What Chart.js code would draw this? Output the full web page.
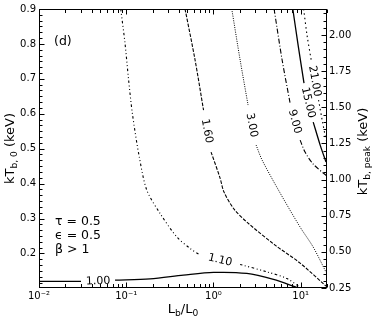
<!DOCTYPE html>
<html><head><meta charset="utf-8">
<script src="https://cdn.jsdelivr.net/npm/chart.js@4"></script>
<style>html,body{margin:0;padding:0;background:#fff}#wrap{width:374px;height:321px;position:relative}</style>
</head><body><div id="wrap"><canvas id="c"></canvas></div>
<script>
// ---- data ----
const levelLabels = ['1.00','1.10','1.60','3.00','9.00','15.00','21.00'];
// null marks where the inline contour label sits
const lvl100X = [0.01, 0.0303, null, 0.0744, 0.1875, 0.452, 1.0, 2.41, 4.87, 9.02];
const lvl100Y = [0.1198, 0.1198, null, 0.1235, 0.1272, 0.1378, 0.1456, 0.1427, 0.1255, 0.1026];
const lvl110X = [0.0865, 0.0968, 0.106, 0.1175, 0.141, 0.172, 0.244, 0.379, 0.539, 0.702, null, 2.02, 4.09, 6.93, 9.84];
const lvl110Y = [0.900, 0.8017, 0.7014, 0.6011, 0.4768, 0.3814, 0.3146, 0.2476, 0.2143, 0.1951, null, 0.1685, 0.1473, 0.1284, 0.1026];
const lvl160X = [0.472, 0.615, 0.769, null, 0.938, 1.19, 1.32, 1.72, 2.49, 5.08, 9.84, 19.5];
const lvl160Y = [0.900, 0.7539, 0.6106, null, 0.4903, 0.4158, 0.3756, 0.3269, 0.2868, 0.2238, 0.1722, 0.1063];
const lvl300X = [1.62, 2.02, 2.49, null, 3.08, 3.61, 5.81, 9.84, 13.9, 19.5];
const lvl300Y = [0.900, 0.7539, 0.6249, null, 0.5103, 0.4673, 0.3728, 0.2754, 0.2181, 0.1464];
const lvl900X = [4.95, 6.12, 7.55, null, 9.84, 11.2, 13.9, 19.9];
const lvl900Y = [0.900, 0.7539, 0.6307, null, 0.5246, 0.4903, 0.4559, 0.4215];
const lvl1500X = [8.11, 9.33, 10.9, null, 13.9, 16.7, 19.5];
const lvl1500Y = [0.900, 0.7968, 0.6880, null, 0.5762, 0.5103, 0.4616];
const lvl2100X = [10.8, 11.8, 13.3, null, 16.0, 17.6, 19.5];
const lvl2100Y = [0.900, 0.8255, 0.7481, null, 0.6393, 0.5819, 0.5246];

const xMajor = [0.01, 0.1, 1, 10];
const xMajorLabels = ['10\u207B\u00B2', '10\u207B\u00B9', '10\u2070', '10\u00B9'];
const yMajor = [0.2, 0.3, 0.4, 0.5, 0.6, 0.7, 0.8, 0.9];
const y2Major = [0.25, 0.5, 0.75, 1.0, 1.25, 1.5, 1.75, 2.0];
const xRange = [0.01, 20], yRange = [0.101, 0.9], y2Range = [0.25, 2.18];
const paramText = ['\u03C4 = 0.5', '\u03F5 = 0.5', '\u03B2 > 1'];
const panelTag = '(d)';

// ---- styling ----
const contourX = [lvl100X, lvl110X, lvl160X, lvl300X, lvl900X, lvl1500X, lvl2100X];
const contourY = [lvl100Y, lvl110Y, lvl160Y, lvl300Y, lvl900Y, lvl1500Y, lvl2100Y];
const dashes = [[], [2.5,2.5,1,2.5,1,2.5], [3.5,1.5], [1,1.3], [5,2,1,2], [], [1.5,3]];
const widths = [1.3, 1.1, 1.1, 1.0, 1.1, 1.3, 1.1];
const FONT = '"DejaVu Sans", sans-serif';

const datasets = contourX.map((xs, k) => ({
  label: levelLabels[k],
  data: xs.map((x, i) => x === null ? {x: xs[i-1], y: null} : {x: x, y: contourY[k][i]}),
  showLine: true, pointRadius: 0, borderColor: '#000', borderWidth: widths[k],
  borderDash: dashes[k], tension: 0.3, spanGaps: false, yAxisID: 'y'
}));
// invisible dataset to bind the right axis
datasets.push({data: [], yAxisID: 'y2', showLine: false, pointRadius: 0});

function richText(ctx, parts, x, y, size, align) {
  let w = 0;
  parts.forEach(p => { ctx.font = (p[1] ? size*0.7 : size) + 'px ' + FONT; w += ctx.measureText(p[0]).width; });
  let cx = align === 'center' ? x - w/2 : x;
  parts.forEach(p => {
    ctx.font = (p[1] ? size*0.7 : size) + 'px ' + FONT;
    ctx.fillText(p[0], cx, y + (p[1] ? size*0.25 : 0));
    cx += ctx.measureText(p[0]).width;
  });
}

const decor = {
  id: 'decor',
  afterDatasetsDraw(chart) {
    const ctx = chart.ctx, xs = chart.scales.x, ys = chart.scales.y;
    ctx.save();
    ctx.fillStyle = '#000';
    ctx.font = '11px ' + FONT;
    ctx.textAlign = 'center'; ctx.textBaseline = 'middle';
    contourX.forEach((arr, k) => {
      const i = arr.indexOf(null);
      const ax = xs.getPixelForValue(arr[i-1]), ay = ys.getPixelForValue(contourY[k][i-1]);
      const bx = xs.getPixelForValue(arr[i+1]), by = ys.getPixelForValue(contourY[k][i+1]);
      let ang = Math.atan2(by-ay, bx-ax);
      if (ang > Math.PI/2) ang -= Math.PI; if (ang < -Math.PI/2) ang += Math.PI;
      ctx.save(); ctx.translate((ax+bx)/2, (ay+by)/2); ctx.rotate(ang);
      ctx.fillText(levelLabels[k], 0, 0.5); ctx.restore();
    });
    ctx.restore();
  },
  afterDraw(chart) {
    const ctx = chart.ctx, a = chart.chartArea;
    const xs = chart.scales.x, ys = chart.scales.y, y2 = chart.scales.y2;
    ctx.save();
    ctx.strokeStyle = '#000'; ctx.lineWidth = 1;
    const L = Math.round(a.left)+0.5, R = Math.round(a.right)-0.5, T = Math.round(a.top)+0.5, B = Math.round(a.bottom)-0.5;
    ctx.beginPath();
    for (let e = -2; e <= 1; e++) {
      for (let m = 1; m <= 9; m++) {
        const v = m * Math.pow(10, e);
        if (v < xRange[0] || v > xRange[1]) continue;
        const px = Math.round(xs.getPixelForValue(v)) + 0.5;
        const len = m === 1 ? 5 : 3.5;
        ctx.moveTo(px, B); ctx.lineTo(px, B - len);
        ctx.moveTo(px, T); ctx.lineTo(px, T + len);
      }
    }
    for (let i = 0; i <= 48; i++) {
      const v = 0.1 + i/60;
      if (v < yRange[0] || v > yRange[1] + 1e-9) continue;
      const py = Math.round(ys.getPixelForValue(v)) + 0.5;
      const major = i % 6 === 0;
      ctx.moveTo(L, py); ctx.lineTo(L + (major ? 5 : 3), py);
    }
    for (let i = 0; i <= 40; i++) {
      const v = 0.25 + i*0.05;
      if (v > y2Range[1]) continue;
      const py = Math.round(y2.getPixelForValue(v)) + 0.5;
      const major = i % 5 === 0;
      ctx.moveTo(R, py); ctx.lineTo(R - (major ? 5 : 3), py);
    }
    ctx.stroke();
    ctx.strokeRect(L, T, R - L, B - T);
    ctx.fillStyle = '#000';
    ctx.textAlign = 'left'; ctx.textBaseline = 'alphabetic';
    const cy = (a.top + a.bottom)/2, cx = (a.left + a.right)/2;
    richText(ctx, [['L',0],['b',1],['/L',0],['0',1]], cx, 313, 13, 'center');
    ctx.save(); ctx.translate(14, cy); ctx.rotate(-Math.PI/2);
    richText(ctx, [['kT',0],['b, 0',1],[' (keV)',0]], 0, 0, 13, 'center');
    ctx.restore();
    ctx.save(); ctx.translate(367, cy + 3); ctx.rotate(-Math.PI/2);
    richText(ctx, [['kT',0],['b, peak',1],[' (keV)',0]], 0, 0, 13, 'center');
    ctx.restore();
    ctx.font = '12.5px ' + FONT;
    ctx.fillText(panelTag, 54, 45);
    paramText.forEach((t, i) => ctx.fillText(t, 55, 225 + i*14));
    ctx.restore();
  }
};

new Chart(document.getElementById('c'), {
  type: 'scatter',
  data: { datasets },
  options: {
    responsive: true, maintainAspectRatio: false, animation: false,
    layout: { padding: { top: 9, left: 0, right: 0, bottom: 0 } },
    plugins: { legend: { display: false }, tooltip: { enabled: false } },
    scales: {
      x: {
        type: 'logarithmic', position: 'bottom', min: xRange[0], max: xRange[1],
        grid: { display: false, drawTicks: false }, border: { display: false },
        afterBuildTicks: s => { s.ticks = xMajor.map(v => ({ value: v })); },
        afterFit: s => { s.height = 33; },
        ticks: { color: '#000', font: { family: FONT, size: 10 }, padding: 2, maxRotation: 0, autoSkip: false,
          callback: (v) => { const i = xMajor.findIndex(m => Math.abs(m - v) / m < 1e-6); return i >= 0 ? xMajorLabels[i] : ''; } }
      },
      y: {
        type: 'linear', position: 'left', min: yRange[0], max: yRange[1],
        grid: { display: false, drawTicks: false }, border: { display: false },
        afterBuildTicks: s => { s.ticks = yMajor.map(v => ({ value: v })); },
        afterFit: s => { s.width = 39; },
        ticks: { color: '#000', font: { family: FONT, size: 10 }, padding: 3, autoSkip: false,
          callback: v => Number(v).toFixed(1) }
      },
      y2: {
        type: 'linear', position: 'right', min: y2Range[0], max: y2Range[1],
        grid: { display: false, drawTicks: false }, border: { display: false },
        afterBuildTicks: s => { s.ticks = y2Major.map(v => ({ value: v })); },
        afterFit: s => { s.width = 47; },
        ticks: { color: '#000', font: { family: FONT, size: 10 }, padding: 2, autoSkip: false,
          callback: v => Number(v).toFixed(2) }
      }
    }
  },
  plugins: [decor]
});
</script></body></html>
